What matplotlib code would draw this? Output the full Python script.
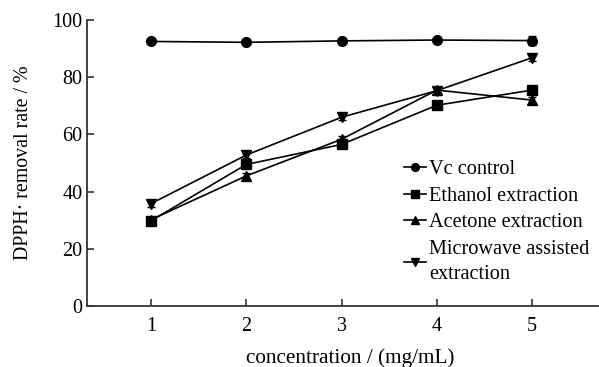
import matplotlib
matplotlib.use("Agg")
import matplotlib.pyplot as plt

plt.rcParams['font.family'] = ['Liberation Serif', 'DejaVu Serif']

conc = [1, 2, 3, 4, 5]
vc_control = [92.5, 92.2, 92.7, 93.0, 92.8]
vc_err = [1.0, 0.6, 0.8, 1.2, 1.6]
ethanol = [29.8, 49.5, 56.5, 70.2, 75.5]
ethanol_err = [1.0, 1.2, 1.0, 1.0, 1.5]
acetone = [30.2, 45.5, 58.3, 75.5, 72.0]
acetone_err = [0.8, 1.0, 1.2, 1.0, 1.2]
microwave = [35.8, 52.8, 66.0, 75.3, 86.8]
microwave_err = [1.0, 1.2, 0.8, 0.8, 1.0]

xticks = [1, 2, 3, 4, 5]
yticks = [0, 20, 40, 60, 80, 100]

fig = plt.figure(figsize=(5.99, 3.67), dpi=100)
ax = fig.add_axes([0.146, 0.166, 0.852, 0.7795])

series = [
    ("Vc control", vc_control, vc_err, "o"),
    ("Ethanol extraction", ethanol, ethanol_err, "s"),
    ("Acetone extraction", acetone, acetone_err, "^"),
    ("Microwave assisted\nextraction", microwave, microwave_err, "v"),
]
handles = []
for label, vals, err, mk in series:
    h = ax.errorbar(conc, vals, yerr=err, color="black", lw=1.2, marker=mk,
                    markersize=7, capsize=3, elinewidth=1.0, capthick=1.0,
                    label=label)
    handles.append(h)

ax.set_xlim(0.333, 5.69)
ax.set_ylim(0, 100)
ax.set_xticks(xticks)
ax.set_yticks(yticks)
ax.tick_params(direction="in", length=5, width=1.2, labelsize=14.5, color="#333333")
ax.tick_params(axis="x", pad=8)
for side in ("top", "right"):
    ax.spines[side].set_visible(False)
for side in ("left", "bottom"):
    ax.spines[side].set_linewidth(1.3)
    ax.spines[side].set_color("#333333")

ax.set_xlabel("concentration / (mg/mL)", fontsize=15.3, labelpad=9)
ax.xaxis.set_label_coords(0.514, -0.146)
ax.set_ylabel("DPPH· removal rate / %", fontsize=14.3, labelpad=14)

leg = ax.legend(handles=[h[0] for h in handles],
                labels=[s[0] for s in series],
                loc="upper left", bbox_to_anchor=(0.6, 0.546),
                frameon=False, fontsize=14.6, handlelength=1.1,
                handletextpad=0.15, labelspacing=0.36, borderpad=0,
                markerscale=0.8)
for t in leg.get_texts():
    t.set_linespacing(1.45)

fig.savefig("out.png", dpi=100)
